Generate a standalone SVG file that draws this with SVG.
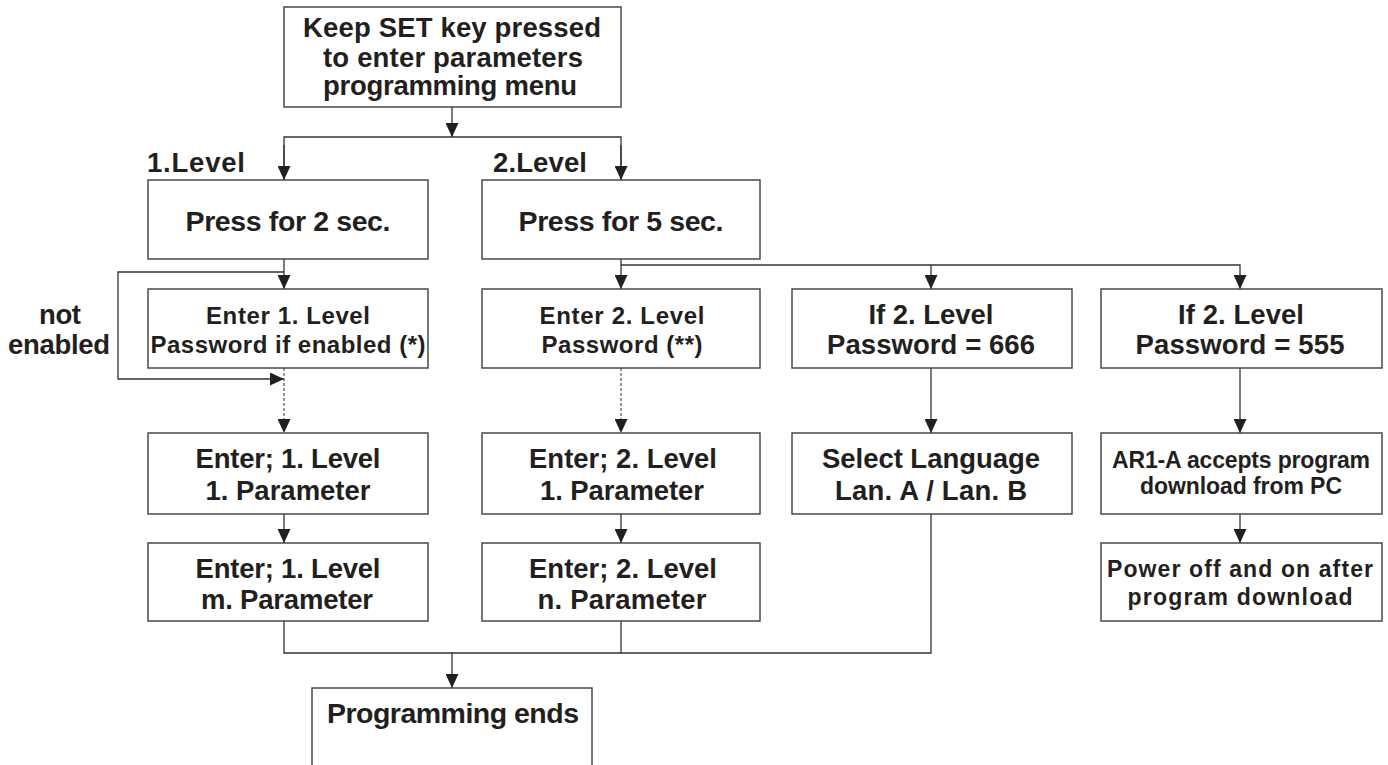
<svg xmlns="http://www.w3.org/2000/svg" width="1388" height="765" viewBox="0 0 1388 765">
<style>
.box{fill:#fff;stroke:#4a4a4a;stroke-width:1.5}
.t{font-family:"Liberation Sans",Arial,sans-serif;font-weight:bold;fill:#231f20;text-anchor:middle}
.c{fill:none;stroke:#333;stroke-width:1.3}
.d{fill:none;stroke:#555;stroke-width:1.2;stroke-dasharray:3,2}
.s27{font-size:27.5px}
.s28{font-size:28.5px}
.s24{font-size:24px}
.s23{font-size:23px}
</style>
<defs>
<marker id="ah" markerUnits="userSpaceOnUse" markerWidth="14" markerHeight="13" refX="14" refY="6.5" orient="auto">
<path d="M0,0 L14,6.5 L0,13 z" fill="#231f20"/>
</marker>
</defs>
<rect width="1388" height="765" fill="#fff"/>

<g id="connectors">
<line class="c" x1="452" y1="107" x2="452" y2="137" marker-end="url(#ah)"/>
<polyline class="c" points="284,180 284,137 621,137 621,180"/>
<line class="c" x1="284" y1="145" x2="284" y2="180" marker-end="url(#ah)"/>
<line class="c" x1="621" y1="145" x2="621" y2="180" marker-end="url(#ah)"/>
<line class="c" x1="284" y1="259" x2="284" y2="289" marker-end="url(#ah)"/>
<polyline class="c" points="284,272 118,272 118,379 284,379" marker-end="url(#ah)"/>
<line class="d" x1="284" y1="368" x2="284" y2="433" marker-end="url(#ah)"/>
<line class="c" x1="621" y1="259" x2="621" y2="289" marker-end="url(#ah)"/>
<polyline class="c" points="621,265 1240,265 1240,289" marker-end="url(#ah)"/>
<line class="c" x1="931" y1="265" x2="931" y2="289" marker-end="url(#ah)"/>
<line class="d" x1="621" y1="368" x2="621" y2="433" marker-end="url(#ah)"/>
<line class="c" x1="931" y1="368" x2="931" y2="433" marker-end="url(#ah)"/>
<line class="c" x1="1240" y1="368" x2="1240" y2="433" marker-end="url(#ah)"/>
<line class="c" x1="284" y1="514" x2="284" y2="543" marker-end="url(#ah)"/>
<line class="c" x1="621" y1="514" x2="621" y2="543" marker-end="url(#ah)"/>
<line class="c" x1="1240" y1="514" x2="1240" y2="543" marker-end="url(#ah)"/>
<polyline class="c" points="284,621 284,653 931,653 931,514"/>
<line class="c" x1="621" y1="621" x2="621" y2="653"/>
<line class="c" x1="452" y1="653" x2="452" y2="688" marker-end="url(#ah)"/>
</g>

<g id="start">
<rect class="box" x="284" y="7" width="337" height="100"/>
<text class="t s27" x="452" y="37" textLength="298" lengthAdjust="spacing">Keep SET key pressed</text>
<text class="t s27" x="453" y="67" textLength="260" lengthAdjust="spacing">to enter parameters</text>
<text class="t s27" x="450" y="95" textLength="254" lengthAdjust="spacing">programming menu</text>
</g>

<g id="label-level1"><text class="t s27" x="196" y="172" textLength="98" lengthAdjust="spacing">1.Level</text></g>
<g id="label-level2"><text class="t s27" x="540" y="172" textLength="94" lengthAdjust="spacing">2.Level</text></g>
<g id="label-not-enabled">
<text class="t s27" x="60" y="324" textLength="42" lengthAdjust="spacing">not</text>
<text class="t s27" x="59" y="354" textLength="102" lengthAdjust="spacing">enabled</text>
</g>

<g id="press2">
<rect class="box" x="148" y="180" width="280" height="79"/>
<text class="t s28" x="288" y="231" textLength="205" lengthAdjust="spacing">Press for 2 sec.</text>
</g>
<g id="press5">
<rect class="box" x="482" y="180" width="278" height="79"/>
<text class="t s28" x="621" y="231" textLength="205" lengthAdjust="spacing">Press for 5 sec.</text>
</g>

<g id="pw1">
<rect class="box" x="148" y="289" width="280" height="79"/>
<text class="t s24" x="288" y="324" textLength="164" lengthAdjust="spacing">Enter 1. Level</text>
<text class="t s24" x="288" y="353" textLength="275" lengthAdjust="spacing">Password if enabled (*)</text>
</g>
<g id="pw2">
<rect class="box" x="482" y="289" width="278" height="79"/>
<text class="t s24" x="622" y="324" textLength="165" lengthAdjust="spacing">Enter 2. Level</text>
<text class="t s24" x="622" y="353" textLength="161" lengthAdjust="spacing">Password (**)</text>
</g>
<g id="pw666">
<rect class="box" x="792" y="289" width="280" height="79"/>
<text class="t s27" x="931" y="324" textLength="125" lengthAdjust="spacing">If 2. Level</text>
<text class="t s27" x="931" y="354" textLength="208" lengthAdjust="spacing">Password = 666</text>
</g>
<g id="pw555">
<rect class="box" x="1101" y="289" width="281" height="79"/>
<text class="t s27" x="1241" y="324" textLength="126" lengthAdjust="spacing">If 2. Level</text>
<text class="t s27" x="1240" y="354" textLength="209" lengthAdjust="spacing">Password = 555</text>
</g>

<g id="l1p1">
<rect class="box" x="148" y="433" width="280" height="81"/>
<text class="t s27" x="288" y="468" textLength="185" lengthAdjust="spacing">Enter; 1. Level</text>
<text class="t s27" x="288" y="500" textLength="165" lengthAdjust="spacing">1. Parameter</text>
</g>
<g id="l2p1">
<rect class="box" x="482" y="433" width="278" height="81"/>
<text class="t s27" x="623" y="468" textLength="188" lengthAdjust="spacing">Enter; 2. Level</text>
<text class="t s27" x="622" y="500" textLength="164" lengthAdjust="spacing">1. Parameter</text>
</g>
<g id="lang">
<rect class="box" x="792" y="433" width="280" height="81"/>
<text class="t s27" x="931" y="468" textLength="218" lengthAdjust="spacing">Select Language</text>
<text class="t s27" x="931" y="500" textLength="192" lengthAdjust="spacing">Lan. A / Lan. B</text>
</g>
<g id="download">
<rect class="box" x="1101" y="433" width="281" height="81"/>
<text class="t s23" x="1241" y="468" textLength="258" lengthAdjust="spacing">AR1-A accepts program</text>
<text class="t s23" x="1241" y="494" textLength="202" lengthAdjust="spacing">download from PC</text>
</g>

<g id="l1pm">
<rect class="box" x="148" y="543" width="280" height="78"/>
<text class="t s27" x="288" y="578" textLength="185" lengthAdjust="spacing">Enter; 1. Level</text>
<text class="t s27" x="287" y="609" textLength="172" lengthAdjust="spacing">m. Parameter</text>
</g>
<g id="l2pn">
<rect class="box" x="482" y="543" width="278" height="78"/>
<text class="t s27" x="623" y="578" textLength="188" lengthAdjust="spacing">Enter; 2. Level</text>
<text class="t s27" x="622" y="609" textLength="169" lengthAdjust="spacing">n. Parameter</text>
</g>
<g id="power">
<rect class="box" x="1101" y="543" width="281" height="78"/>
<text class="t s23" x="1240" y="577" textLength="266" lengthAdjust="spacing">Power off and on after</text>
<text class="t s23" x="1240" y="605" textLength="225" lengthAdjust="spacing">program download</text>
</g>

<g id="end">
<rect class="box" x="312" y="688" width="280" height="90"/>
<text class="t s28" x="453" y="723" textLength="252" lengthAdjust="spacing">Programming ends</text>
</g>
</svg>
